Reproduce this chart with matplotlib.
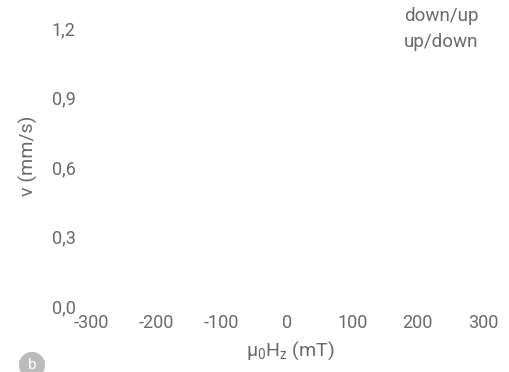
import matplotlib
matplotlib.use("Agg")
import matplotlib.pyplot as plt

# data (the panel shows no measured points, only the frame)
field_down_up = []
v_down_up = []
field_up_down = []
v_up_down = []
series_labels = ["down/up", "up/down"]

x_ticks = [-300, -200, -100, 0, 100, 200, 300]
y_ticks = [0.0, 0.3, 0.6, 0.9, 1.2]
y_tick_labels = ["0,0", "0,3", "0,6", "0,9", "1,2"]

grey = "#6a6a6a"
plt.rcParams["font.family"] = ["Roboto", "DejaVu Sans"]
plt.rcParams["font.weight"] = "normal"
plt.rcParams["axes.unicode_minus"] = False
plt.rcParams["mathtext.fontset"] = "custom"
plt.rcParams["mathtext.rm"] = "Roboto"
plt.rcParams["mathtext.it"] = "Roboto"

fig = plt.figure(figsize=(5.1, 3.72), dpi=100)
ax = fig.add_axes([91 / 510, 1 - 306 / 372, 392 / 510, 278 / 372])

ax.plot(field_down_up, v_down_up, "o", color="#d62728", label=series_labels[0])
ax.plot(field_up_down, v_up_down, "s", color="#1f77b4", label=series_labels[1])

ax.set_xlim(-300, 300)
ax.set_ylim(0, 1.2)
ax.set_xticks(x_ticks)
ax.set_yticks(y_ticks)
ax.set_yticklabels(y_tick_labels)
ax.tick_params(length=0, labelsize=13, labelcolor=grey)
ax.tick_params(axis="y", pad=11)
ax.tick_params(axis="x", pad=6)
for s in ax.spines.values():
    s.set_visible(False)

ax.set_xlabel(r"$\mathregular{\mu_0H_z}$ (mT)", fontsize=14, color=grey)
ax.xaxis.set_label_coords((290 - 91) / 392, -33 / 278)
ax.set_ylabel("v (mm/s)", fontsize=14, color=grey)
ax.yaxis.set_label_coords(-53 / 392, 150 / 278)

leg = ax.legend(loc="upper left", bbox_to_anchor=(404 / 510, 1 - 7 / 372), bbox_transform=fig.transFigure,
                frameon=False, handlelength=0, handletextpad=0, fontsize=13.5, labelspacing=0.45,
                borderpad=0, borderaxespad=0)
for h in leg.legend_handles:
    h.set_visible(False)
for t in leg.get_texts():
    t.set_color(grey)

fig.text(32 / 510, 1 - 365 / 372, "b", color="white", fontsize=11, ha="center", va="center",
         bbox=dict(boxstyle="circle,pad=0.4", fc="#bbbbbb", ec="none"))

fig.savefig("out.png", dpi=100)
